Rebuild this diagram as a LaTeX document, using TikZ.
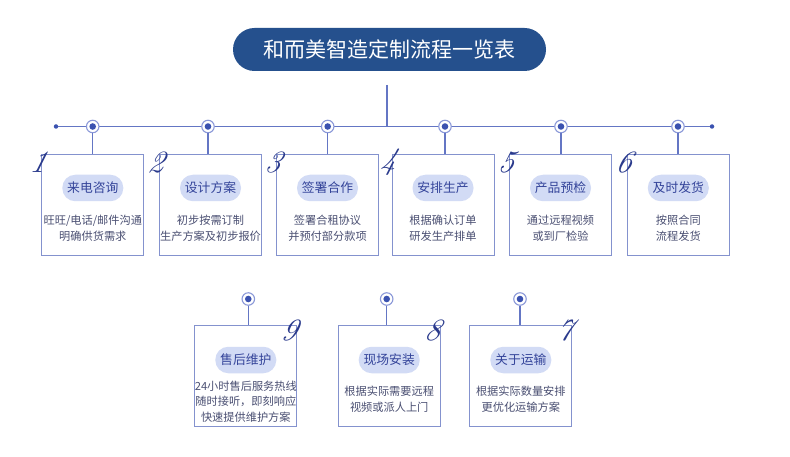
\documentclass[tikz,border=0pt]{standalone}
\usepackage{fontspec}
\newfontfamily\cjk{Noto Sans CJK SC}
\definecolor{titlec}{HTML}{25508D}
\definecolor{linec}{HTML}{6476C4}
\definecolor{boxc}{HTML}{8492CE}
\definecolor{pillc}{HTML}{D2DBF5}
\definecolor{pilltxt}{HTML}{34449A}
\definecolor{desctxt}{HTML}{4A4F72}
\definecolor{dotc}{HTML}{3B52B0}
\definecolor{ringc}{HTML}{8A98D8}
\definecolor{numc}{HTML}{2A3A8C}
\begin{document}
\begin{tikzpicture}[x=1pt,y=-1pt,
  titlebox/.style={fill=titlec,text=white,rounded corners=21.5pt,minimum width=313pt,minimum height=43pt,inner sep=0pt,font=\cjk\fontsize{21}{21}\selectfont},
  stepbox/.style={draw=boxc,line width=1pt,fill=white,minimum width=102pt,minimum height=101.5pt,inner sep=0pt},
  pill/.style={fill=pillc,text=pilltxt,rounded corners=13pt,minimum width=61pt,minimum height=26.5pt,inner sep=0pt,font=\cjk\fontsize{12.8}{12.8}\selectfont},
  desc/.style={text=desctxt,align=center,inner sep=0pt,font=\cjk\fontsize{11.2}{16}\selectfont},
  descb/.style={text=desctxt,align=center,inner sep=0pt,font=\cjk\fontsize{11.2}{15.5}\selectfont},
  marker/.style={circle,draw=ringc,line width=1.1pt,fill=white,minimum size=12.5pt,inner sep=0pt,path picture={\fill[dotc] (path picture bounding box.center) circle (3.3pt);}},
  enddot/.style={circle,fill=dotc,minimum size=4.5pt,inner sep=0pt},
  num/.style={text=numc,inner sep=0pt,xslant=0.25,font=\rmfamily\itshape\fontsize{31}{31}\selectfont},
  conn/.style={draw=linec,line width=1.2pt}
]
\useasboundingbox (0,0) rectangle (790,457);
\fill[white] (0,0) rectangle (790,457);

% title
\node[titlebox] (t) at (389.5,49.5) {和而美智造定制流程一览表};
\coordinate (tl) at (387,85);

% timeline
\node[enddot] (e1) at (56,126.5) {};
\node[enddot] (e2) at (712,126.5) {};
\coordinate (tj) at (387,126.5);
\draw[conn] (e1) -- (e2);
\draw[conn] (tl) -- (tj);

% top boxes
\foreach \i/\bx/\mx in {1/92.8/92.7,2/210.5/208,3/327.5/327.7,4/443/445,5/560.5/561,6/678.3/678}{
  \node[stepbox] (b\i) at (\bx,204.8) {};
  \node[marker] (m\i) at (\mx,126.5) {};
  \draw[conn] (m\i) -- (m\i |- b\i.north);
}
\foreach \i/\bx/\mx in {9/245.8/248.3,8/389.2/386.7,7/520.8/520}{
  \node[stepbox] (b\i) at (\bx,376.2) {};
  \node[marker] (m\i) at (\mx,299) {};
  \draw[conn] (m\i) -- (m\i |- b\i.north);
}

% pills top
\node[pill] (p1) at (b1.center |- 0,188) {来电咨询};
\node[pill] (p2) at (b2.center |- 0,188) {设计方案};
\node[pill] (p3) at (b3.center |- 0,188) {签署合作};
\node[pill] (p4) at (b4.center |- 0,188) {安排生产};
\node[pill] (p5) at (b5.center |- 0,188) {产品预检};
\node[pill] (p6) at (b6.center |- 0,188) {及时发货};

\node[desc] (d1) at (b1.center |- 0,228.7) {旺旺/电话/邮件沟通\\明确供货需求};
\node[desc] (d2) at (b2.center |- 0,228.7) {初步按需订制\\生产方案及初步报价};
\node[desc] (d3) at (b3.center |- 0,228.7) {签署合租协议\\并预付部分款项};
\node[desc] (d4) at (b4.center |- 0,228.7) {根据确认订单\\研发生产排单};
\node[desc] (d5) at (b5.center |- 0,228.7) {通过远程视频\\或到厂检验};
\node[desc] (d6) at (b6.center |- 0,228.7) {按照合同\\流程发货};

% pills bottom
\node[pill] (p9) at (b9.center |- 0,360) {售后维护};
\node[pill] (p8) at (b8.center |- 0,360) {现场安装};
\node[pill] (p7) at (b7.center |- 0,360) {关于运输};

\node[descb] (d9) at (b9.center |- 0,401.5) {24小时售后服务热线\\随时接听，即刻响应\\快速提供维护方案};
\node[descb] (d8) at (b8.center |- 0,399) {根据实际需要远程\\视频或派人上门};
\node[descb] (d7) at (b7.center |- 0,399) {根据实际数量安排\\更优化运输方案};

% numbers
\foreach \i in {1,...,6}{
  \node[num] (n\i) at ([xshift=-2pt,yshift=-9pt]b\i.north west) {\i};
}
\foreach \i in {7,8,9}{
  \node[num] (n\i) at ([xshift=-7pt,yshift=-6pt]b\i.north east) {\i};
}
\end{tikzpicture}
\end{document}
